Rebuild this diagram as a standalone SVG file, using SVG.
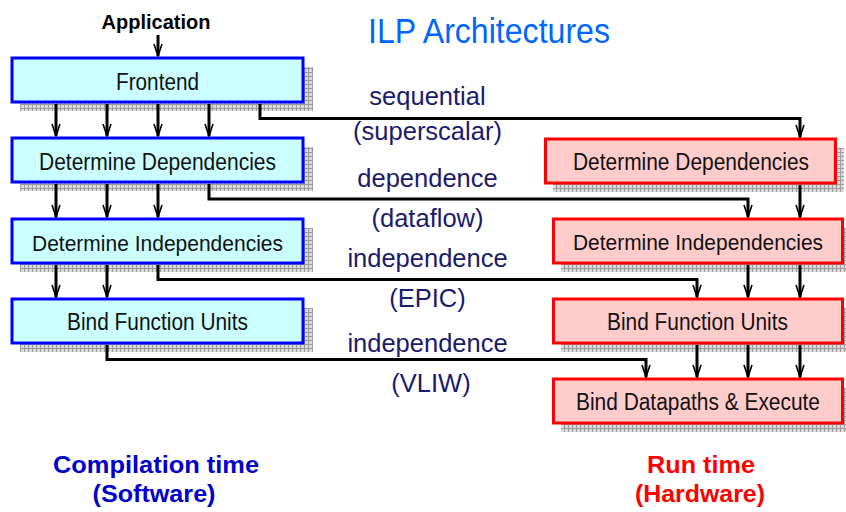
<svg xmlns="http://www.w3.org/2000/svg" width="846" height="512" viewBox="0 0 846 512">
  <defs>
    <pattern id="grid" width="4" height="4" patternUnits="userSpaceOnUse">
      <rect width="4" height="4" fill="#dadada"/>
      <path d="M0,0.5 H4 M0.5,0 V4" stroke="#9c9c9c" stroke-width="1" fill="none"/>
    </pattern>
    <marker id="arrow" viewBox="-13 -5 14 10" refX="0" refY="0" markerWidth="14" markerHeight="10" markerUnits="userSpaceOnUse" orient="auto">
      <path d="M-12,-4 L0,0 L-12,4" fill="none" stroke="#000" stroke-width="1.6"/>
    </marker>
    <style>
      .shadow { fill: url(#grid); }
      .sw { fill: #ccffff; stroke: #0000ff; stroke-width: 3; }
      .hw { fill: #ffcccc; stroke: #ff0000; stroke-width: 3; }
      .lbl { font-family: "Liberation Sans", Arial, sans-serif; font-size: 23px; fill: #111; text-anchor: middle; }
      .lbl.long { font-size: 22px; }
      .mid { font-family: "Liberation Sans", Arial, sans-serif; font-size: 25.5px; fill: #1a1a6e; text-anchor: middle; }
      .conn { fill: none; stroke: #000; stroke-width: 3; marker-end: url(#arrow); }
      .bold { font-family: "Liberation Sans", Arial, sans-serif; font-weight: bold; text-anchor: middle; }
    </style>
  </defs>

  <!-- headings -->
  <text x="489" y="43" font-family="'Liberation Sans', Arial, sans-serif" font-size="35" fill="#0066ff" text-anchor="middle" textLength="242" lengthAdjust="spacingAndGlyphs">ILP Architectures</text>
  <text class="bold" x="156" y="29" font-size="20" fill="#000">Application</text>

  <!-- software (compile-time) stages -->
  <g id="sw-frontend">
    <rect class="shadow" x="20" y="67" width="293" height="44"/>
    <rect class="sw" x="12" y="58" width="291" height="44"/>
    <text class="lbl" x="157.5" y="90" textLength="83" lengthAdjust="spacingAndGlyphs">Frontend</text>
  </g>
  <g id="sw-dependencies">
    <rect class="shadow" x="20" y="147" width="293" height="44"/>
    <rect class="sw" x="12" y="138" width="291" height="44"/>
    <text class="lbl" x="157.5" y="170" textLength="237" lengthAdjust="spacingAndGlyphs">Determine Dependencies</text>
  </g>
  <g id="sw-independencies">
    <rect class="shadow" x="20" y="228" width="293" height="44"/>
    <rect class="sw" x="12" y="219" width="291" height="44"/>
    <text class="lbl long" x="157.5" y="251" textLength="251" lengthAdjust="spacingAndGlyphs">Determine Independencies</text>
  </g>
  <g id="sw-bind-fu">
    <rect class="shadow" x="20" y="308" width="293" height="44"/>
    <rect class="sw" x="12" y="299" width="291" height="44"/>
    <text class="lbl" x="157.5" y="330" textLength="181" lengthAdjust="spacingAndGlyphs">Bind Function Units</text>
  </g>

  <!-- hardware (run-time) stages -->
  <g id="hw-dependencies">
    <rect class="shadow" x="553" y="148" width="291" height="44"/>
    <rect class="hw" x="545.5" y="139" width="290" height="44"/>
    <text class="lbl" x="691" y="170" textLength="236" lengthAdjust="spacingAndGlyphs">Determine Dependencies</text>
  </g>
  <g id="hw-independencies">
    <rect class="shadow" x="561" y="228" width="285" height="44"/>
    <rect class="hw" x="553.5" y="219" width="289" height="44"/>
    <text class="lbl long" x="698" y="250" textLength="250" lengthAdjust="spacingAndGlyphs">Determine Independencies</text>
  </g>
  <g id="hw-bind-fu">
    <rect class="shadow" x="561" y="308" width="285" height="44"/>
    <rect class="hw" x="553.5" y="299" width="289" height="44"/>
    <text class="lbl" x="697.5" y="330" textLength="181" lengthAdjust="spacingAndGlyphs">Bind Function Units</text>
  </g>
  <g id="hw-bind-dp">
    <rect class="shadow" x="561" y="388" width="285" height="44"/>
    <rect class="hw" x="553.5" y="379" width="289" height="44"/>
    <text class="lbl" x="698" y="410" textLength="244" lengthAdjust="spacingAndGlyphs">Bind Datapaths &amp; Execute</text>
  </g>

  <!-- connectors -->
  <g id="connectors">
    <path class="conn" d="M158,35 V56"/>
    <path class="conn" d="M56,104 V136"/>
    <path class="conn" d="M107,104 V136"/>
    <path class="conn" d="M158,104 V136"/>
    <path class="conn" d="M209,104 V136"/>
    <path class="conn" d="M56,184 V217"/>
    <path class="conn" d="M107,184 V217"/>
    <path class="conn" d="M158,184 V217"/>
    <path class="conn" d="M56,265 V297"/>
    <path class="conn" d="M107,265 V297"/>
    <path class="conn" d="M260,104 V118.5 H800 V137"/>
    <path class="conn" d="M209,184 V199 H748 V217"/>
    <path class="conn" d="M158,265 V279.5 H697 V297"/>
    <path class="conn" d="M107,345 V359.5 H646 V377"/>
    <path class="conn" d="M800,185 V217"/>
    <path class="conn" d="M748,265 V297"/>
    <path class="conn" d="M800,265 V297"/>
    <path class="conn" d="M697,345 V377"/>
    <path class="conn" d="M748,345 V377"/>
    <path class="conn" d="M800,345 V377"/>
  </g>

  <!-- connector captions -->
  <text class="mid" x="427.5" y="105">sequential</text>
  <text class="mid" x="427.5" y="140">(superscalar)</text>
  <text class="mid" x="427.5" y="187">dependence</text>
  <text class="mid" x="427.5" y="227">(dataflow)</text>
  <text class="mid" x="427.5" y="267">independence</text>
  <text class="mid" x="427.5" y="307">(EPIC)</text>
  <text class="mid" x="427.5" y="352">independence</text>
  <text class="mid" x="431" y="392">(VLIW)</text>

  <!-- footers -->
  <text class="bold" x="156" y="473" font-size="24" fill="#0000cc" textLength="206" lengthAdjust="spacingAndGlyphs">Compilation time</text>
  <text class="bold" x="154" y="502" font-size="24" fill="#0000cc" textLength="123" lengthAdjust="spacingAndGlyphs">(Software)</text>
  <text class="bold" x="701" y="473" font-size="24" fill="#ff0000" textLength="108" lengthAdjust="spacingAndGlyphs">Run time</text>
  <text class="bold" x="700" y="502" font-size="24" fill="#ff0000" textLength="130" lengthAdjust="spacingAndGlyphs">(Hardware)</text>
</svg>
